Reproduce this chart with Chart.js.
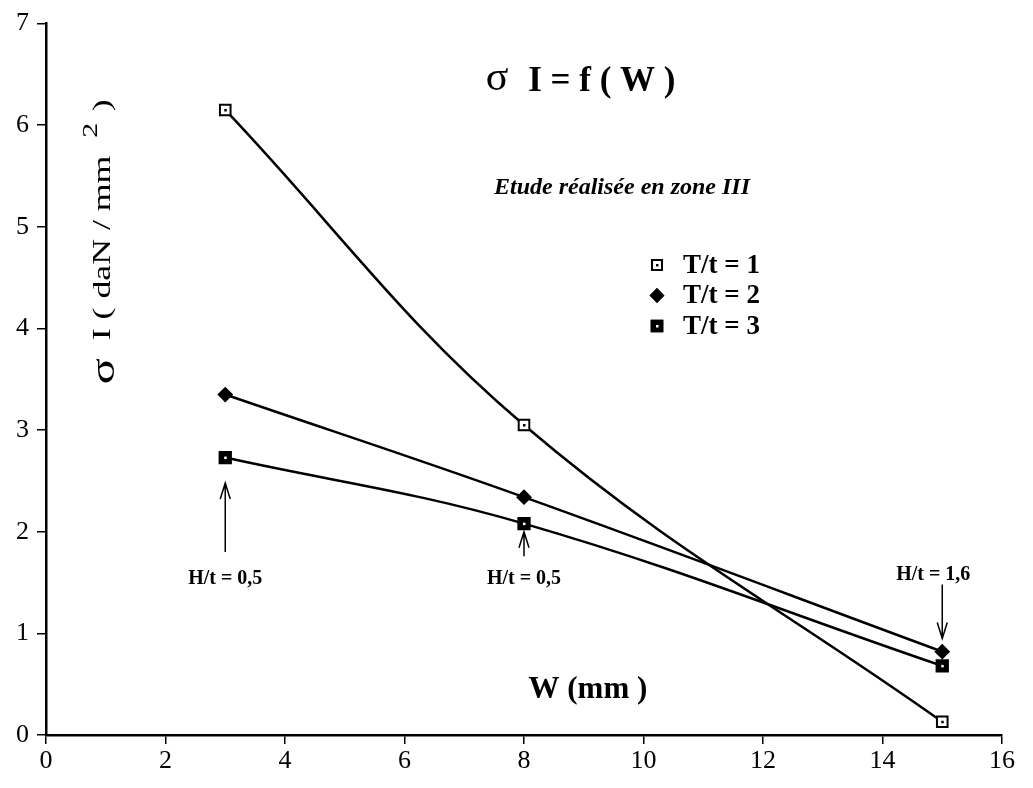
<!DOCTYPE html>
<html>
<head>
<meta charset="utf-8">
<script src="https://cdn.jsdelivr.net/npm/chart.js@4/dist/chart.umd.min.js"></script>
<style>
  html, body { margin: 0; padding: 0; background: #fff; }
  #wrap { width: 1033px; height: 788px; }
</style>
</head>
<body>
<div id="wrap"><canvas id="myCanvas" width="1033" height="788"></canvas></div>
<script>
var widths = [3, 8, 15];
var seriesLabels = ["T/t = 1", "T/t = 2", "T/t = 3"];
var sigma1 = [6.15, 3.05, 0.13];
var sigma2 = [3.35, 2.34, 0.82];
var sigma3 = [2.73, 2.08, 0.68];
var xTicks = [0, 2, 4, 6, 8, 10, 12, 14, 16];
var yTicks = [0, 1, 2, 3, 4, 5, 6, 7];
// arrows: x, from y, to y, label, label y
var notes = [
  { x: 3, y0: 1.80, y1: 2.48, text: "H/t = 0,5", tx: 3, ty: 1.54 },
  { x: 8, y0: 1.76, y1: 2.00, text: "H/t = 0,5", tx: 8, ty: 1.54 },
  { x: 15, y0: 1.48, y1: 0.95, text: "H/t = 1,6", tx: 14.85, ty: 1.58 }
];

var serif = "'Liberation Serif', 'Times New Roman', serif";

function pts(ys){
  return widths.map(function(w, i){ return { x: w, y: ys[i] }; });
}

var styles = [
  { pointStyle: 'rect', pointBackgroundColor: '#fff', pointRadius: 7.5, dot: '#000' },
  { pointStyle: 'rectRot', pointBackgroundColor: '#000', pointRadius: 6.5, dot: null },
  { pointStyle: 'rect', pointBackgroundColor: '#000', pointRadius: 8, dot: '#fff' }
];

var datasets = [sigma1, sigma2, sigma3].map(function(ys, i){
  return {
    label: seriesLabels[i],
    data: pts(ys),
    borderColor: '#000',
    borderWidth: 2.5,
    tension: 0.38,
    pointStyle: styles[i].pointStyle,
    pointBackgroundColor: styles[i].pointBackgroundColor,
    pointBorderColor: '#000',
    pointBorderWidth: 2,
    pointRadius: styles[i].pointRadius
  };
});

var extras = {
  id: 'extras',
  afterDatasetsDraw: function(chart){
    var c = chart.ctx, xs = chart.scales.x, ys = chart.scales.y;
    c.save();
    c.fillStyle = '#000';
    c.strokeStyle = '#000';

    // little dots inside the square markers
    styles.forEach(function(st, i){
      if (!st.dot) return;
      chart.getDatasetMeta(i).data.forEach(function(p){
        c.fillStyle = st.dot;
        c.fillRect(p.x - 1, p.y - 1, 2.5, 2.5);
      });
    });
    c.fillStyle = '#000';

    // title
    c.textBaseline = 'middle';
    c.textAlign = 'center';
    c.font = '42px ' + serif;
    c.fillText('σ', xs.getPixelForValue(7.55), ys.getPixelForValue(6.46));
    c.textAlign = 'left';
    c.font = 'bold 35px ' + serif;
    c.fillText('I = f ( W )', xs.getPixelForValue(8.07), ys.getPixelForValue(6.43));

    c.textAlign = 'center';
    c.font = 'italic bold 24px ' + serif;
    c.fillText('Etude réalisée en zone III', xs.getPixelForValue(9.64), ys.getPixelForValue(5.38));

    c.font = 'bold 31px ' + serif;
    c.fillText('W (mm )', xs.getPixelForValue(9.07), ys.getPixelForValue(0.44));

    // legend
    c.textAlign = 'left';
    c.font = 'bold 27px ' + serif;
    for (var i = 0; i < datasets.length; i++) {
      var lx = 657, ly = 265 + i * 30.5;
      c.lineWidth = 2;
      Chart.helpers.drawPoint(c, {
        pointStyle: styles[i].pointStyle,
        radius: styles[i].pointRadius - 0.5,
        borderWidth: 2
      }, lx, ly);
      c.fillStyle = styles[i].pointBackgroundColor;
      c.fill();
      c.stroke();
      if (styles[i].dot) {
        c.fillStyle = styles[i].dot;
        c.fillRect(lx - 1, ly - 1, 2.5, 2.5);
      }
      c.fillStyle = '#000';
      c.fillText(seriesLabels[i], 683, ly + 1);
    }

    // arrows with labels
    c.textAlign = 'center';
    c.font = 'bold 20px ' + serif;
    c.lineWidth = 1.5;
    notes.forEach(function(n){
      var px = xs.getPixelForValue(n.x);
      var a = ys.getPixelForValue(n.y0), b = ys.getPixelForValue(n.y1);
      var dir = b < a ? 1 : -1;
      c.beginPath();
      c.moveTo(px, a); c.lineTo(px, b);
      c.moveTo(px - 5, b + dir * 16); c.lineTo(px, b); c.lineTo(px + 5, b + dir * 16);
      c.stroke();
      c.fillText(n.text, xs.getPixelForValue(n.tx), ys.getPixelForValue(n.ty));
    });

    // y axis title
    c.save();
    c.translate(103, 241);
    c.rotate(-Math.PI / 2);
    c.scale(1.43, 1);
    c.textAlign = 'left';
    c.textBaseline = 'middle';
    var sig = 'σ';
    var main = '  I ( daN / mm  ';
    c.font = '34px ' + serif;
    var ws = c.measureText(sig).width;
    c.font = '25px ' + serif;
    var w = c.measureText(main).width;
    var start = -(ws + w + 28) / 2;
    c.font = '34px ' + serif;
    c.fillText(sig, start, 2);
    c.font = '25px ' + serif;
    c.fillText(main, start + ws, 0);
    c.font = '21px ' + serif;
    c.fillText('2', start + ws + w, -12);
    c.font = '25px ' + serif;
    c.fillText('  )', start + ws + w + 6, 0);
    c.restore();

    c.restore();
  }
};

var ctx = document.getElementById('myCanvas').getContext('2d');
var chart = new Chart(ctx, {
  type: 'line',
  data: { datasets: datasets },
  options: {
    responsive: false,
    animation: false,
    layout: { padding: { top: 17, right: 31, left: 0, bottom: 0 } },
    plugins: { legend: { display: false }, tooltip: { enabled: false } },
    scales: {
      x: {
        type: 'linear', min: 0, max: 16,
        afterBuildTicks: function(s){ s.ticks = xTicks.map(function(v){ return { value: v }; }); },
        afterFit: function(s){ s.height = 53; },
        grid: { drawOnChartArea: false, tickLength: 9, color: '#000', lineWidth: 1.5 },
        border: { color: '#000', width: 2.5 },
        ticks: { color: '#000', font: { family: serif, size: 26 }, padding: 2, maxRotation: 0 }
      },
      y: {
        type: 'linear', min: 0, max: 7,
        afterBuildTicks: function(s){ s.ticks = yTicks.map(function(v){ return { value: v }; }); },
        afterFit: function(s){ s.width = 46; },
        grid: { drawOnChartArea: false, tickLength: 9, color: '#000', lineWidth: 1.5 },
        border: { color: '#000', width: 2.5 },
        ticks: { color: '#000', font: { family: serif, size: 26 }, padding: 8 }
      }
    }
  },
  plugins: [extras]
});
</script>
</body>
</html>
